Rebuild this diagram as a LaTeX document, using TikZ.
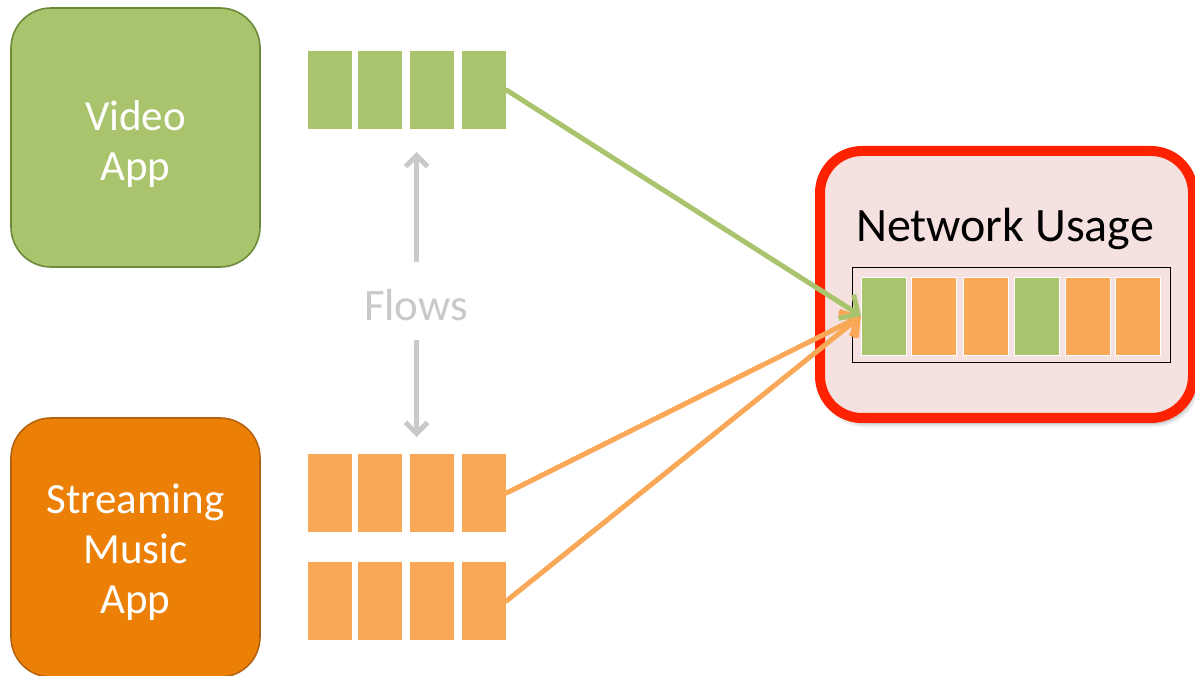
\documentclass[tikz,border=0pt]{standalone}
\usepackage{fontspec}
\setmainfont{Carlito}
\usetikzlibrary{arrows.meta,shadows.blur}

\definecolor{leaf}{HTML}{AAC46D}
\definecolor{leafdark}{HTML}{6B8A3A}
\definecolor{amber}{HTML}{EC8006}
\definecolor{amberdark}{HTML}{B5620F}
\definecolor{peach}{HTML}{F9A857}
\definecolor{alarm}{HTML}{FF2200}
\definecolor{blush}{HTML}{F5E1E0}
\definecolor{mist}{HTML}{C9C9C9}

\tikzset{
  appbox/.style={draw, line width=1.6pt, rounded corners=40pt,
    minimum width=249pt, minimum height=259pt, inner sep=0pt},
  apptext/.style={text=white, align=center, inner sep=0pt,
    font=\fontsize{43}{50}\selectfont},
  packet/.style={draw=white, line width=0.8pt, inner sep=0pt,
    minimum width=45pt, minimum height=79pt},
  usagepkt/.style={packet, minimum height=78pt},
  flowarrow/.style={line width=5pt, line cap=round,
    -{Straight Barb[length=14pt,width=28pt,line width=5pt]}},
  hintarrow/.style={mist, line width=5pt,
    -{Straight Barb[length=11pt,width=22pt,line width=5pt]}},
}

\begin{document}
\begin{tikzpicture}[x=1pt,y=-1pt]
  \useasboundingbox (0,0) rectangle (1195,676);

  % applications
  \node[appbox, fill=leaf, draw=leafdark] (video) at (135.5,137.5) {};
  \node[apptext] (videoText) at ([yshift=-7pt]video.center) {Video\\App};
  \node[appbox, fill=amber, draw=amberdark] (music) at (135.5,547.5) {};
  \node[apptext] (musicText) at ([yshift=-5pt]music.center) {Streaming\\Music\\App};

  % per-flow packet queues
  \foreach \i/\x in {1/329.5, 2/380, 3/432, 4/483.5} {
    \node[packet, fill=leaf]  (g\i) at (\x,90)  {};
    \node[packet, fill=peach] (o\i) at (\x,493) {};
    \node[packet, fill=peach] (p\i) at (\x,601) {};
  }

  % flows label with pointers
  \node[text=mist, font=\fontsize{45}{54}\selectfont] (flows) at (416,305) {Flows};
  \coordinate (upTail) at (416.5,262);
  \coordinate (upTip) at (416.5,152);
  \coordinate (dnTail) at (416.5,340);
  \coordinate (dnTip) at (416.5,437);
  \draw[hintarrow] (upTail) -- (upTip);
  \draw[hintarrow] (dnTail) -- (dnTip);

  % network usage panel
  \draw[alarm, line width=10pt, fill=blush, rounded corners=42pt,
        blur shadow={shadow xshift=3pt, shadow yshift=-5pt, shadow blur radius=5pt, shadow opacity=40}]
    (820,151) rectangle (1193,418);
  \node[font=\fontsize{48}{56}\selectfont, anchor=base] (usage) at (1005,242) {Network Usage};
  \node[draw=black, line width=1pt, minimum width=318pt, minimum height=95pt, inner sep=0pt]
    (link) at (1011,315.5) {};
  \foreach \i/\x/\c in {1/883.5/leaf, 2/933.5/peach, 3/985.5/peach, 4/1036.5/leaf, 5/1087.5/peach, 6/1137.5/peach} {
    \node[usagepkt, fill=\c] (u\i) at (\x,316) {};
  }

  % flows merging into the link
  \coordinate (merge) at (861,316);
  \draw[flowarrow, peach] (p4.east) -- (merge);
  \draw[flowarrow, peach] (o4.east) -- (merge);
  \draw[flowarrow, leaf] (g4.east) -- (merge);
\end{tikzpicture}
\end{document}
